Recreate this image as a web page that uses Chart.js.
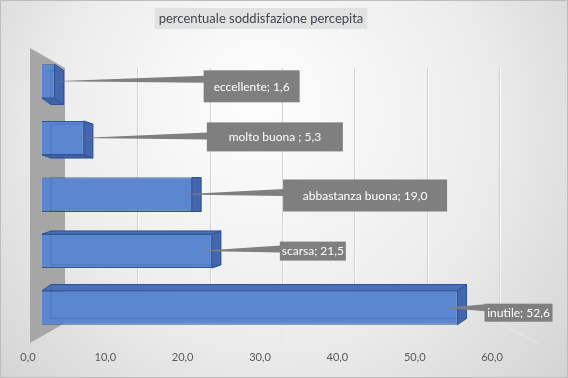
<!DOCTYPE html>
<html>
<head>
<meta charset="utf-8">
<script src="https://cdn.jsdelivr.net/npm/chart.js@4.4.1/dist/chart.umd.min.js"></script>
<style>
  html, body { margin: 0; padding: 0; background: #fff; }
  #wrap { width: 568px; height: 378px; }
</style>
</head>
<body>
<div id="wrap"><canvas id="myChart" width="568" height="378"></canvas></div>
<script>
const chartTitle = 'percentuale soddisfazione percepita';
const categories = ['eccellente', 'molto buona ', 'abbastanza buona', 'scarsa', 'inutile'];
const values = [1.6, 5.3, 19.0, 21.5, 52.6];
const tickValues = [0, 10, 20, 30, 40, 50, 60];

// the callouts were moved by hand in the original: offset from bar end + box size
const calloutBoxes = [
  { dx: 149, dy: 5, w: 96, h: 32 },
  { dx: 123, dy: -1, w: 136, h: 29 },
  { dx: 91, dy: 1, w: 164, h: 32 },
  { dx: 68, dy: 0, w: 66, h: 19 },
  { dx: 27, dy: 5, w: 68, h: 18 },
];

const fmt = v => v.toFixed(1).replace('.', ',');
const FONT = "Lato, 'Open Sans', sans-serif";

// perspective helpers (front scale -> back wall / floor / label row)
const backX = (chart, s) => chart.chartArea.left + 23 + (s - chart.chartArea.left) * 0.916;
const labelX = (chart, s) => chart.chartArea.left - 14 + (s - chart.chartArea.left) * 0.979;
const depthOf = (chart, y) => {
  const eye = (chart.chartArea.top + chart.chartArea.bottom) / 2;
  return { dx: 9, dy: (eye - y) * 0.055 };
};

const scene3d = {
  id: 'scene3d',
  beforeDraw(chart) {
    const { ctx, width, height } = chart;
    ctx.save();
    const g = ctx.createRadialGradient(width * 0.45, height * 0.25, 10, width * 0.5, height * 0.4, width * 0.72);
    g.addColorStop(0, '#fdfdfd');
    g.addColorStop(0.5, '#ededed');
    g.addColorStop(1, '#cdcdcd');
    ctx.fillStyle = g;
    ctx.fillRect(0, 0, width, height);
    ctx.strokeStyle = '#bdbdbd';
    ctx.lineWidth = 1;
    ctx.strokeRect(0.5, 0.5, width - 1, height - 1);

    // title with its grey box
    ctx.font = '13px ' + FONT;
    const tw = ctx.measureText(chartTitle).width;
    const cx = 261;
    ctx.fillStyle = '#e2e2e2';
    ctx.fillRect(cx - tw / 2 - 4, 8, tw + 8, 21);
    ctx.fillStyle = '#3f4652';
    ctx.textAlign = 'center';
    ctx.textBaseline = 'middle';
    ctx.fillText(chartTitle, cx, 19);
    ctx.restore();
  },
  beforeDatasetsDraw(chart) {
    const { ctx, chartArea } = chart;
    const { left, top, bottom } = chartArea;
    const xs = chart.scales.x;
    const backTop = top + 15, backBottom = bottom - 13, floorFront = bottom + 7;
    const vp = left + 245;
    ctx.save();

    // side wall
    ctx.fillStyle = '#a6a6a6';
    ctx.beginPath();
    ctx.moveTo(left - 12, top - 5);
    ctx.lineTo(backX(chart, left), backTop);
    ctx.lineTo(backX(chart, left), backBottom);
    ctx.lineTo(left - 12, floorFront);
    ctx.closePath();
    ctx.fill();

    // back gridlines + floor lines
    tickValues.forEach(v => {
      if (v === 0) return;
      const bx = Math.round(backX(chart, xs.getPixelForValue(v))) + 0.5;
      ctx.strokeStyle = '#d2d2d2';
      ctx.lineWidth = 1;
      ctx.beginPath();
      ctx.moveTo(bx, backTop);
      ctx.lineTo(bx, backBottom);
      ctx.stroke();
      ctx.strokeStyle = 'rgba(255,255,255,0.7)';
      ctx.beginPath();
      ctx.moveTo(bx + 1, backTop);
      ctx.lineTo(bx + 1, backBottom);
      ctx.stroke();
      ctx.strokeStyle = '#e8e8e8';
      ctx.beginPath();
      ctx.moveTo(bx, backBottom);
      ctx.lineTo(bx + 0.18 * (bx - vp), floorFront);
      ctx.stroke();
    });

    // tick labels along the front edge
    ctx.font = '11px ' + FONT;
    ctx.fillStyle = '#595959';
    ctx.textAlign = 'center';
    ctx.textBaseline = 'middle';
    tickValues.forEach(v => {
      ctx.fillText(fmt(v), labelX(chart, xs.getPixelForValue(v)), bottom + 21);
    });

    // 3d faces of the bars (drawn behind the front faces)
    chart.getDatasetMeta(0).data.forEach(bar => {
      const p = bar.getProps(['x', 'y', 'base', 'height'], true);
      const l = p.base, r = p.x, t = p.y - p.height / 2, b = p.y + p.height / 2;
      const d = depthOf(chart, p.y);
      ctx.strokeStyle = '#2f5597';
      ctx.lineWidth = 1;
      if (d.dy < 0) {
        ctx.fillStyle = '#4a70b8';
        ctx.beginPath();
        ctx.moveTo(l, t); ctx.lineTo(r, t); ctx.lineTo(r + d.dx, t + d.dy); ctx.lineTo(l + d.dx, t + d.dy);
        ctx.closePath(); ctx.fill(); ctx.stroke();
      } else {
        ctx.fillStyle = '#3f63a8';
        ctx.beginPath();
        ctx.moveTo(l, b); ctx.lineTo(r, b); ctx.lineTo(r + d.dx, b + d.dy); ctx.lineTo(l + d.dx, b + d.dy);
        ctx.closePath(); ctx.fill(); ctx.stroke();
      }
      ctx.fillStyle = '#4366ad';
      ctx.beginPath();
      ctx.moveTo(r, t); ctx.lineTo(r + d.dx, t + d.dy); ctx.lineTo(r + d.dx, b + d.dy); ctx.lineTo(r, b);
      ctx.closePath(); ctx.fill(); ctx.stroke();
    });
    ctx.restore();
  },
  afterDatasetsDraw(chart) {
    const { ctx } = chart;
    ctx.save();
    const bars = chart.getDatasetMeta(0).data;
    bars.forEach((bar, i) => {
      const p = bar.getProps(['x', 'y', 'base', 'height'], true);
      const d = depthOf(chart, p.y);
      // back edges seen through the front face
      ctx.strokeStyle = 'rgba(40,75,145,0.25)';
      ctx.lineWidth = 1;
      ctx.strokeRect(p.base + d.dx, p.y - p.height / 2 + d.dy, p.x - p.base, p.height);

      // callout
      const c = calloutBoxes[i];
      const bx = p.x + c.dx;
      const by = p.y + c.dy - c.h / 2;
      const sx = Math.max(p.x - 14, p.base + (p.x - p.base) * 0.9);
      const wy = Math.min(Math.max(p.y - 2, by + 4), by + c.h - 4);
      ctx.fillStyle = '#7f7f7f';
      ctx.beginPath();
      ctx.moveTo(sx, p.y);
      ctx.lineTo(bx + 1, wy - 3.5);
      ctx.lineTo(bx + 1, wy + 3.5);
      ctx.closePath();
      ctx.fill();
      ctx.fillRect(bx, by, c.w, c.h);
      ctx.font = '12px ' + FONT;
      ctx.fillStyle = '#ffffff';
      ctx.textAlign = 'center';
      ctx.textBaseline = 'middle';
      ctx.fillText(categories[i] + '; ' + fmt(values[i]), bx + c.w / 2, by + c.h / 2 + 0.5);
    });
    ctx.restore();
  }
};

const ctx = document.getElementById('myChart').getContext('2d');
const chart = new Chart(ctx, {
  type: 'bar',
  data: {
    labels: categories,
    datasets: [{
      data: values,
      backgroundColor: '#5b86d0',
      borderColor: '#2f5597',
      borderWidth: 1,
      categoryPercentage: 0.8,
      barPercentage: 0.75,
    }]
  },
  options: {
    indexAxis: 'y',
    responsive: false,
    animation: false,
    layout: { padding: { top: 53, bottom: 42, left: 42, right: 52 } },
    scales: {
      x: { type: 'linear', min: 0, max: 60, display: false },
      y: { type: 'category', display: false }
    },
    plugins: {
      legend: { display: false },
      title: { display: false },
      tooltip: { enabled: false }
    }
  },
  plugins: [scene3d]
});
</script>
</body>
</html>
